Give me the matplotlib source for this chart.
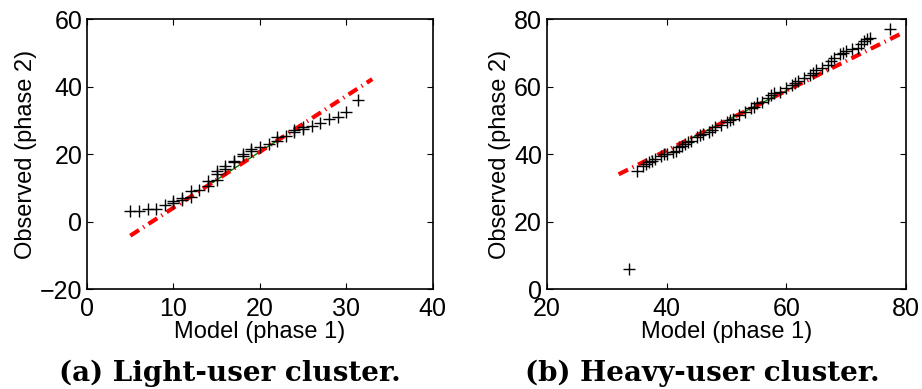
import matplotlib
matplotlib.use("Agg")
import matplotlib.pyplot as plt

# (a) light-user cluster: sorted quantile pairs
light_model = [5, 6, 7, 8, 9, 10, 10, 11, 11, 12, 12, 13, 14, 14, 15, 15, 15, 16, 16,
               17, 17, 18, 18, 19, 19, 20, 21, 22, 22, 23, 24, 24, 25, 25, 26, 27, 28,
               29, 30, 31.3]
light_obs = [3, 3, 3.8, 3.8, 5, 5.5, 6, 6.5, 7, 7.2, 9, 9.3, 10.5, 12, 12.3, 14, 15,
             15.5, 16.5, 17.5, 18, 19.5, 20, 21, 21.5, 22, 23, 24, 25, 25.3, 26.5, 27,
             27.5, 28, 28.3, 29.3, 30.5, 31, 32.5, 36]
light_line_x = [5, 33]
light_line_y = [-4.2, 42.2]
light_quart_x = [14, 22]
light_quart_y = [10.7, 24.0]

# (b) heavy-user cluster
heavy_model = [33.8, 35, 36, 36.5, 37, 37.5, 38, 39, 39.5, 40, 41, 41.5, 42, 42.5, 43,
               43.5, 44, 45, 45.5, 46, 47, 47.5, 48, 49, 50, 50.5, 51, 52, 53, 54, 54.5,
               55, 56, 57, 57.5, 58, 59, 60, 61, 61.5, 62, 63, 64, 64.5, 65, 66, 67,
               67.5, 68, 69, 69.5, 70, 71, 72, 72.5, 73, 73.5, 74, 77.3]
heavy_obs = [5.9, 35, 36.5, 37, 37.5, 38, 38.5, 39.5, 40, 40, 40.5, 41, 42, 42.5, 43,
             43.5, 44, 45, 45.5, 46, 46.5, 47, 48, 48.5, 49.5, 50, 50.5, 51.5, 52.5,
             53.5, 54, 55, 55.5, 56.5, 57.5, 58, 58.5, 59.5, 60.5, 61, 61.5, 62.5, 63.5,
             64, 65, 65.5, 66.5, 67.5, 68.5, 69.5, 70, 70.5, 71, 71.5, 72.5, 73.5, 74,
             74.5, 77]
heavy_line_x = [32, 79.6]
heavy_line_y = [34, 76.1]
heavy_quart_x = [44, 62]
heavy_quart_y = [44.6, 60.6]

plt.rcParams["font.family"] = ["Liberation Sans", "DejaVu Sans"]

fig = plt.figure(figsize=(9.22, 3.89), dpi=100)
ax1 = fig.add_axes([0.0944, 0.257, 0.375, 0.694])
ax2 = fig.add_axes([0.593, 0.257, 0.390, 0.694])

panels = [
    (ax1, light_model, light_obs, light_line_x, light_line_y, light_quart_x, light_quart_y,
     (0, 40), (-20, 60), [0, 10, 20, 30, 40], [-20, 0, 20, 40, 60]),
    (ax2, heavy_model, heavy_obs, heavy_line_x, heavy_line_y, heavy_quart_x, heavy_quart_y,
     (20, 80), (0, 80), [20, 40, 60, 80], [0, 20, 40, 60, 80]),
]

for ax, mx, oy, lx, ly, qx, qy, xlim, ylim, xt, yt in panels:
    ax.plot(qx, qy, "-", color="green", linewidth=1)
    ax.plot(lx, ly, color="red", linewidth=3, dashes=[2.5, 1.2, 0.3, 1.2])
    ax.plot(mx, oy, "+", color="black", markersize=9, markeredgewidth=1)
    ax.set_xlim(*xlim)
    ax.set_ylim(*ylim)
    ax.set_xticks(xt)
    ax.set_yticks(yt)
    ax.tick_params(direction="in", length=4, width=0.8, labelsize=18,
                   top=True, right=True)
    ax.tick_params(axis="x", pad=6)
    ax.set_xlabel("Model (phase 1)", fontsize=17, labelpad=0)
    ax.set_ylabel("Observed (phase 2)", fontsize=17, labelpad=2)
    for s in ax.spines.values():
        s.set_linewidth(1.2)

fig.text(0.249, 0.005, "(a) Light-user cluster.", ha="center", va="bottom",
         fontsize=20, fontweight="bold", family="DejaVu Serif")
fig.text(0.762, 0.005, "(b) Heavy-user cluster.", ha="center", va="bottom",
         fontsize=20, fontweight="bold", family="DejaVu Serif")

fig.savefig("out.png", dpi=100)
